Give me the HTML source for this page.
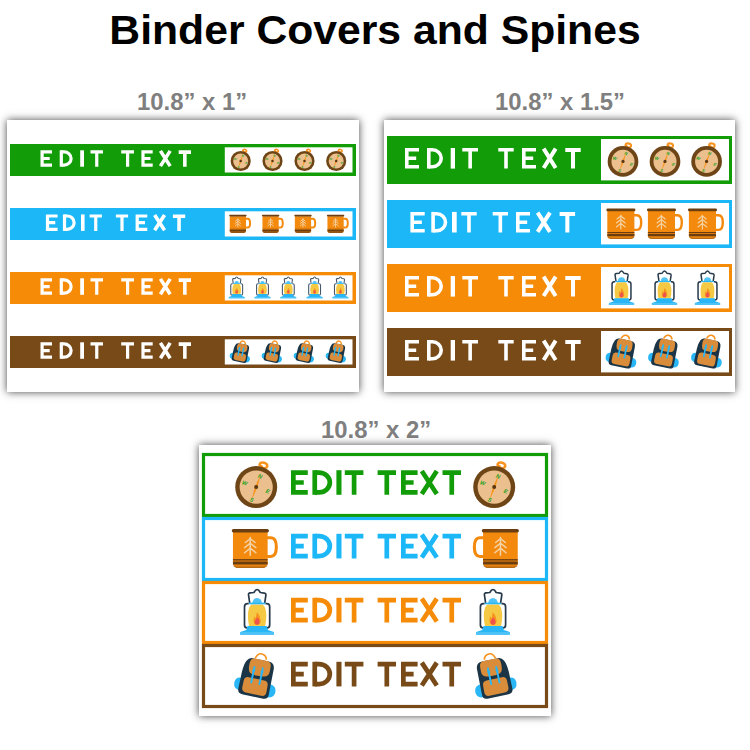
<!DOCTYPE html>
<html><head><meta charset="utf-8"><style>
html,body{margin:0;padding:0;background:#fff;width:750px;height:750px;overflow:hidden}
.pn{position:absolute;background:#fff;box-shadow:0 0 8px 0 rgba(0,0,0,0.72)}
.t{position:absolute;font-family:"Liberation Sans",sans-serif;font-weight:bold;white-space:nowrap;line-height:1}
svg{position:absolute;left:0;top:0}
</style></head><body>
<div class="t" style="left:0;width:750px;text-align:center;top:9.6px;font-size:40px;color:#000;transform:scaleX(1.067)">Binder Covers and Spines</div>
<div class="t" style="left:136.8px;top:90.6px;font-size:23.4px;color:#7f7f7f;transform:scaleX(1.02);transform-origin:0 0">10.8” x 1”</div>
<div class="t" style="left:494.6px;top:90.6px;font-size:23.4px;color:#7f7f7f;transform:scaleX(1.02);transform-origin:0 0">10.8” x 1.5”</div>
<div class="t" style="left:321px;top:419.2px;font-size:23.4px;color:#7f7f7f;transform:scaleX(1.02);transform-origin:0 0">10.8” x 2”</div>
<div class="pn" style="left:7px;top:120px;width:352px;height:272px"></div>
<div class="pn" style="left:384px;top:120px;width:351px;height:272px"></div>
<div class="pn" style="left:199px;top:445px;width:352px;height:271px"></div>
<svg width="750" height="750" viewBox="0 0 750 750">
<defs>
<g id="compass">
 <path d="M4.6 -20.2 L5.6 -22" stroke="#f7931e" stroke-width="3.3"/>
 <ellipse cx="7.2" cy="-21.8" rx="3.9" ry="2.7" fill="none" stroke="#f7931e" stroke-width="2.6" transform="rotate(15 7.2 -21.8)"/>
 <circle r="21" fill="#6e4516"/>
 <circle r="16.6" fill="#ecc08e"/>
 <g transform="rotate(20)">
  <path d="M0 -14 L1.3 0 L0 14 L-1.3 0Z" fill="#f7931e"/>
  <g font-size="5.7" font-weight="bold" font-style="italic" text-anchor="middle" fill="#22a01e" font-family="Liberation Sans">
  <text x="0" y="-9.5">N</text><text x="0" y="15.4">S</text><text x="12.2" y="2">E</text><text x="-12.2" y="2">W</text>
  </g>
 </g>
 <circle r="2.0" fill="#5b3812"/>
</g>
<g id="compassM">
 <path d="M4.6 -20.2 L5.6 -22" stroke="#f7931e" stroke-width="3.5"/>
 <ellipse cx="7.2" cy="-21.8" rx="3.9" ry="2.7" fill="none" stroke="#f7931e" stroke-width="2.8" transform="rotate(15 7.2 -21.8)"/>
 <circle r="21" fill="#6e4516"/>
 <circle r="15.8" fill="#ecc08e"/>
 <g transform="rotate(20)">
  <path d="M0 -14 L1.3 0 L0 14 L-1.3 0Z" fill="#f7931e"/>
  <g font-size="6.0" font-weight="bold" font-style="italic" text-anchor="middle" fill="#22a01e" font-family="Liberation Sans">
  <text x="0" y="-9.5">N</text><text x="0" y="15.4">S</text><text x="12.2" y="2">E</text><text x="-12.2" y="2">W</text>
  </g>
 </g>
 <circle r="2.2" fill="#5b3812"/>
</g>
<g id="compassS">
 <path d="M4.6 -20.2 L5.6 -22" stroke="#f7931e" stroke-width="4.1"/>
 <ellipse cx="8.4" cy="-21.4" rx="3.9" ry="2.7" fill="none" stroke="#f7931e" stroke-width="3.4" transform="rotate(15 8.4 -21.4)"/>
 <circle r="21" fill="#6e4516"/>
 <circle r="15.6" fill="#ecc08e"/>
 <g transform="rotate(20)">
  <path d="M0 -14 L1.8 0 L0 14 L-1.8 0Z" fill="#f7931e"/>
  <g font-size="6.4" font-weight="bold" font-style="italic" text-anchor="middle" fill="#22a01e" font-family="Liberation Sans">
  <text x="0" y="-9.5">N</text><text x="0" y="15.4">S</text><text x="12.2" y="2">E</text><text x="-12.2" y="2">W</text>
  </g>
 </g>
 <circle r="2.6" fill="#5b3812"/>
</g>
<g id="mug">
 <path d="M27.2 6.9 H30.6 Q34.8 6.9 34.8 14.2 Q34.8 21.5 30.6 21.5 H27.2" fill="none" stroke="#f48a0d" stroke-width="2.4"/>
 <path d="M0.9 2.5 H28 V26.4 A4 4 0 0 1 24 30.4 H4.9 A4 4 0 0 1 0.9 26.4Z" fill="#f48a0d"/>
 <path d="M0.9 27.6 H28 V26.4 A4 4 0 0 1 24 30.4 H4.9 A4 4 0 0 1 0.9 26.4Z" fill="#e3820f"/>
 <rect x="0.9" y="23.6" width="27.1" height="1.1" fill="#6b3e12"/>
 <rect x="0.9" y="25.5" width="27.1" height="2.3" fill="#6b3e12"/>
 <path d="M0.9 28.2 Q1.4 30.4 4.9 30.4 H24 Q27.5 30.4 28 28.2 Q27.2 29.6 24 29.6 H4.9 Q1.7 29.6 0.9 28.2Z" fill="#8a4f12" opacity="0.7"/>
 <rect x="0" y="0" width="29" height="2.8" rx="1.3" fill="#6b3e12"/>
 <g stroke="#f3d3a6" stroke-width="1.15" fill="none" stroke-linecap="round">
  <path d="M14.4 6.8 V20.6"/>
  <path d="M10.6 10.6 L14.4 7.6 L18.2 10.6"/>
  <path d="M10 14.6 L14.4 11.2 L18.8 14.6"/>
  <path d="M10 18.6 L14.4 15 L18.8 18.6"/>
 </g>
</g>
<g id="mugS">
 <path d="M27.2 6.9 H30.6 Q34.8 6.9 34.8 14.2 Q34.8 21.5 30.6 21.5 H27.2" fill="none" stroke="#f48a0d" stroke-width="3.3"/>
 <path d="M0.9 2.5 H28 V26.4 A4 4 0 0 1 24 30.4 H4.9 A4 4 0 0 1 0.9 26.4Z" fill="#f48a0d"/>
 <path d="M0.9 27.6 H28 V26.4 A4 4 0 0 1 24 30.4 H4.9 A4 4 0 0 1 0.9 26.4Z" fill="#9a5a14"/>
 <rect x="0.9" y="23.6" width="27.1" height="1.1" fill="#6b3e12"/>
 <rect x="0.9" y="25.5" width="27.1" height="2.3" fill="#6b3e12"/>
 <path d="M0.9 28.2 Q1.4 30.4 4.9 30.4 H24 Q27.5 30.4 28 28.2 Q27.2 29.6 24 29.6 H4.9 Q1.7 29.6 0.9 28.2Z" fill="#8a4f12" opacity="0.7"/>
 <rect x="0" y="0" width="29" height="2.8" rx="1.3" fill="#6b3e12"/>
 <g stroke="#f3d3a6" stroke-width="1.5" fill="none" stroke-linecap="round">
  <path d="M14.4 6.8 V20.6"/>
  <path d="M10.6 10.6 L14.4 7.6 L18.2 10.6"/>
  <path d="M10 14.6 L14.4 11.2 L18.8 14.6"/>
  <path d="M10 18.6 L14.4 15 L18.8 18.6"/>
 </g>
</g>
<g id="lantern">
 <path d="M-7.4 13.5 L-8.6 5.2 Q-8.8 3.6 -7 3.4 L-3.2 3 Q-1.6 0 0 0 Q1.6 0 3.2 3 L7.2 3.6 Q9 3.9 8.8 5.6 L7.6 13.5" fill="none" stroke="#26394a" stroke-width="1.7" stroke-linejoin="round"/>
 <path d="M-4.8 13.6 A4.8 5.2 0 0 1 4.8 13.6Z" fill="#4fc3f7"/>
 <path d="M-8.4 14.2 H-9.6 Q-12.6 14.2 -12.6 17.4 V35.6 Q-12.6 38.6 -9.6 38.6 M8.4 14.2 H9.6 Q12.6 14.2 12.6 17.4 V35.6 Q12.6 38.6 9.6 38.6" fill="none" stroke="#26394a" stroke-width="1.7"/>
 <path d="M-5.8 14.9 Q-9.2 18.4 -9.2 26 Q-9.2 32.6 -8 36.6 H8 Q9.2 32.6 9.2 26 Q9.2 18.4 5.8 14.9Z" fill="#f6c945"/>
 <rect x="-8.2" y="13.2" width="16.4" height="1.6" fill="#29b6f6"/>
 <path d="M0 22.8 Q3.6 26.8 3.6 31 Q3.6 35.4 0 35.4 Q-3.6 35.4 -3.6 31 Q-3.6 28.2 -2.2 26.8 Q-1.8 28.6 -1 28.8 Q-1.4 25.6 0 22.8Z" fill="#f7931e"/>
 <path d="M0.4 27.8 Q2.4 30.4 2.4 32.4 Q2.4 35.2 0 35.2 Q-2.4 35.2 -2.4 32.6 Q-2.4 31 -1.2 30 Q-0.6 28.8 0.4 27.8Z" fill="#ef5350"/>
 <path d="M-9.6 36.4 H9.6 L10.8 40.6 L16.8 42.6 V45.3 H-16.8 V42.6 L-10.8 40.6Z" fill="#29b6f6"/>
 <rect x="-16.8" y="42.6" width="33.6" height="2.7" fill="#4fc3f7"/>
</g>
<g id="lanternM">
 <path d="M-7.4 13.5 L-8.6 5.2 Q-8.8 3.6 -7 3.4 L-3.2 3 Q-1.6 0 0 0 Q1.6 0 3.2 3 L7.2 3.6 Q9 3.9 8.8 5.6 L7.6 13.5" fill="none" stroke="#26394a" stroke-width="2.0" stroke-linejoin="round"/>
 <path d="M-4.8 13.6 A4.8 5.2 0 0 1 4.8 13.6Z" fill="#4fc3f7"/>
 <path d="M-8.4 14.2 H-9.6 Q-12.6 14.2 -12.6 17.4 V35.6 Q-12.6 38.6 -9.6 38.6 M8.4 14.2 H9.6 Q12.6 14.2 12.6 17.4 V35.6 Q12.6 38.6 9.6 38.6" fill="none" stroke="#26394a" stroke-width="2.0"/>
 <path d="M-5.8 14.9 Q-9.2 18.4 -9.2 26 Q-9.2 32.6 -8 36.6 H8 Q9.2 32.6 9.2 26 Q9.2 18.4 5.8 14.9Z" fill="#f6c945"/>
 <rect x="-8.2" y="13.2" width="16.4" height="1.6" fill="#29b6f6"/>
 <path d="M0 22.8 Q3.6 26.8 3.6 31 Q3.6 35.4 0 35.4 Q-3.6 35.4 -3.6 31 Q-3.6 28.2 -2.2 26.8 Q-1.8 28.6 -1 28.8 Q-1.4 25.6 0 22.8Z" fill="#f7931e"/>
 <path d="M0.4 27.8 Q2.4 30.4 2.4 32.4 Q2.4 35.2 0 35.2 Q-2.4 35.2 -2.4 32.6 Q-2.4 31 -1.2 30 Q-0.6 28.8 0.4 27.8Z" fill="#ef5350"/>
 <path d="M-9.6 36.4 H9.6 L10.8 40.6 L16.8 42.6 V45.3 H-16.8 V42.6 L-10.8 40.6Z" fill="#29b6f6"/>
 <rect x="-16.8" y="42.6" width="33.6" height="2.7" fill="#4fc3f7"/>
</g>
<g id="lanternS">
 <path d="M-7.4 13.5 L-8.6 5.2 Q-8.8 3.6 -7 3.4 L-3.2 3 Q-1.6 0 0 0 Q1.6 0 3.2 3 L7.2 3.6 Q9 3.9 8.8 5.6 L7.6 13.5" fill="none" stroke="#46576a" stroke-width="2.3" stroke-linejoin="round"/>
 <path d="M-4.8 13.6 A4.8 5.2 0 0 1 4.8 13.6Z" fill="#4fc3f7"/>
 <path d="M-8.4 14.2 H-9.6 Q-12.6 14.2 -12.6 17.4 V35.6 Q-12.6 38.6 -9.6 38.6 M8.4 14.2 H9.6 Q12.6 14.2 12.6 17.4 V35.6 Q12.6 38.6 9.6 38.6" fill="none" stroke="#46576a" stroke-width="2.3"/>
 <path d="M-5.8 14.9 Q-9.2 18.4 -9.2 26 Q-9.2 32.6 -8 36.6 H8 Q9.2 32.6 9.2 26 Q9.2 18.4 5.8 14.9Z" fill="#f6c945"/>
 <rect x="-8.2" y="13.2" width="16.4" height="1.6" fill="#29b6f6"/>
 <path d="M0 22.8 Q3.6 26.8 3.6 31 Q3.6 35.4 0 35.4 Q-3.6 35.4 -3.6 31 Q-3.6 28.2 -2.2 26.8 Q-1.8 28.6 -1 28.8 Q-1.4 25.6 0 22.8Z" fill="#f7931e"/>
 <path d="M0.4 27.8 Q2.4 30.4 2.4 32.4 Q2.4 35.2 0 35.2 Q-2.4 35.2 -2.4 32.6 Q-2.4 31 -1.2 30 Q-0.6 28.8 0.4 27.8Z" fill="#ef5350"/>
 <path d="M-9.6 36.4 H9.6 L10.8 40.6 L16.8 42.6 V45.3 H-16.8 V42.6 L-10.8 40.6Z" fill="#29b6f6"/>
 <rect x="-16.8" y="42.6" width="33.6" height="2.7" fill="#4fc3f7"/>
</g>
<g id="backpack">
 <path d="M-13.6 2.6 Q-20.6 2.2 -20.6 8.8 Q-20.4 15.6 -12.6 15.4Z" fill="#29b6f6"/>
 <path d="M13.6 3 Q21.4 2.8 21.6 9.6 Q21.8 16.4 13.6 16.4Z" fill="#29b6f6"/>
 <path d="M-5.2 -19.4 Q-3.6 -25.2 0.6 -24.9 Q5 -24.6 6 -20.2" fill="none" stroke="#f7931e" stroke-width="1.7"/>
 <path d="M-7.6 -18.8 H8.6 Q15 -18.8 15.2 -12 L15.6 13.4 Q15.8 18.6 11 18.6 H-10.6 Q-15.6 18.6 -15.4 13.4 L-15.4 -3 Q-15.2 -11 -13.2 -15 Q-11.2 -18.8 -7.6 -18.8Z" fill="#1c3546"/>
 <path d="M-5 -19 H7 Q11.4 -19 11.6 -14 L11.8 -9.6 Q12 -3.6 6 -3 L1 -2.6 Q-6.6 -2.4 -8.2 -5 Q-9.6 -7.4 -9.6 -11.4 V-13.8 Q-9.6 -19 -5 -19Z" fill="#d98d3b"/>
 <path d="M-7.6 0.6 H8.2 Q12.4 0.6 12.6 5 L12.8 11.6 Q12.8 16.2 8.4 16.2 H-7.2 Q-11.8 16.2 -11.8 11.6 V5.2 Q-11.8 0.6 -7.6 0.6Z" fill="#d98d3b"/>
 <g stroke="#29b6f6" stroke-width="1.9" stroke-linecap="round">
  <path d="M-4.1 -10.6 V5.2"/><path d="M4.3 -11 V5.2"/>
 </g>
 <ellipse cx="-4.1" cy="-7" rx="1.4" ry="2" fill="#29b6f6"/><ellipse cx="4.3" cy="-7.2" rx="1.4" ry="2" fill="#29b6f6"/>
</g>
<g id="backpackM">
 <path d="M-13.6 2.6 Q-20.6 2.2 -20.6 8.8 Q-20.4 15.6 -12.6 15.4Z" fill="#29b6f6"/>
 <path d="M13.6 3 Q21.4 2.8 21.6 9.6 Q21.8 16.4 13.6 16.4Z" fill="#29b6f6"/>
 <path d="M-5.2 -19.4 Q-3.6 -25.2 0.6 -24.9 Q5 -24.6 6 -20.2" fill="none" stroke="#f7931e" stroke-width="2.1"/>
 <path d="M-7.6 -18.8 H8.6 Q15 -18.8 15.2 -12 L15.6 13.4 Q15.8 18.6 11 18.6 H-10.6 Q-15.6 18.6 -15.4 13.4 L-15.4 -3 Q-15.2 -11 -13.2 -15 Q-11.2 -18.8 -7.6 -18.8Z" fill="#1c3546"/>
 <path d="M-5 -19 H7 Q11.4 -19 11.6 -14 L11.8 -9.6 Q12 -3.6 6 -3 L1 -2.6 Q-6.6 -2.4 -8.2 -5 Q-9.6 -7.4 -9.6 -11.4 V-13.8 Q-9.6 -19 -5 -19Z" fill="#d98d3b"/>
 <path d="M-7.6 0.6 H8.2 Q12.4 0.6 12.6 5 L12.8 11.6 Q12.8 16.2 8.4 16.2 H-7.2 Q-11.8 16.2 -11.8 11.6 V5.2 Q-11.8 0.6 -7.6 0.6Z" fill="#d98d3b"/>
 <g stroke="#29b6f6" stroke-width="2.3" stroke-linecap="round">
  <path d="M-4.1 -10.6 V5.2"/><path d="M4.3 -11 V5.2"/>
 </g>
 <ellipse cx="-4.1" cy="-7" rx="1.4" ry="2" fill="#29b6f6"/><ellipse cx="4.3" cy="-7.2" rx="1.4" ry="2" fill="#29b6f6"/>
</g>
<g id="backpackS">
 <path d="M-13.6 2.6 Q-20.6 2.2 -20.6 8.8 Q-20.4 15.6 -12.6 15.4Z" fill="#29b6f6"/>
 <path d="M13.6 3 Q21.4 2.8 21.6 9.6 Q21.8 16.4 13.6 16.4Z" fill="#29b6f6"/>
 <path d="M-5.2 -19.4 Q-3.6 -25.2 0.6 -24.9 Q5 -24.6 6 -20.2" fill="none" stroke="#f7931e" stroke-width="2.8"/>
 <path d="M-7.6 -18.8 H8.6 Q15 -18.8 15.2 -12 L15.6 13.4 Q15.8 18.6 11 18.6 H-10.6 Q-15.6 18.6 -15.4 13.4 L-15.4 -3 Q-15.2 -11 -13.2 -15 Q-11.2 -18.8 -7.6 -18.8Z" fill="#1c3546"/>
 <path d="M-5 -19 H7 Q11.4 -19 11.6 -14 L11.8 -9.6 Q12 -3.6 6 -3 L1 -2.6 Q-6.6 -2.4 -8.2 -5 Q-9.6 -7.4 -9.6 -11.4 V-13.8 Q-9.6 -19 -5 -19Z" fill="#d98d3b"/>
 <path d="M-7.6 0.6 H8.2 Q12.4 0.6 12.6 5 L12.8 11.6 Q12.8 16.2 8.4 16.2 H-7.2 Q-11.8 16.2 -11.8 11.6 V5.2 Q-11.8 0.6 -7.6 0.6Z" fill="#d98d3b"/>
 <g stroke="#29b6f6" stroke-width="2.8" stroke-linecap="round">
  <path d="M-4.1 -10.6 V5.2"/><path d="M4.3 -11 V5.2"/>
 </g>
 <ellipse cx="-4.1" cy="-7" rx="1.4" ry="2" fill="#29b6f6"/><ellipse cx="4.3" cy="-7.2" rx="1.4" ry="2" fill="#29b6f6"/>
</g></defs>
<rect x="10" y="144" width="346" height="32" fill="#129c08"/><rect x="224.8" y="147.3" width="127.7" height="25.2" fill="#fff"/><rect x="10" y="208" width="346" height="32" fill="#1bb7f7"/><rect x="224.8" y="211.3" width="127.7" height="25.2" fill="#fff"/><rect x="10" y="272" width="346" height="32" fill="#f58b06"/><rect x="224.8" y="275.3" width="127.7" height="25.2" fill="#fff"/><rect x="10" y="336" width="346" height="32" fill="#774a18"/><rect x="224.8" y="339.3" width="127.7" height="25.2" fill="#fff"/><g fill="#ffffff"><path d="M40.5 150.3H52V153.5H43.7V156.9H49.7V160.1H43.7V163.5H52V166.7H40.5Z"/><rect x="59.7" y="150.3" width="3.2" height="16.4"/><path fill="none" stroke="#ffffff" stroke-width="3.2" d="M61.3 151.9H64.12A6.98 6.6 0 0 1 64.12 165.1H61.3"/><rect x="80.2" y="150.3" width="3.8" height="16.4"/><path d="M90.5 150.3H103V153.5H98.35V166.7H95.15V153.5H90.5Z"/><path d="M121.2 150.3H134V153.5H129.2V166.7H126V153.5H121.2Z"/><path d="M141.4 150.3H152.7V153.5H144.6V156.9H150.44V160.1H144.6V163.5H152.7V166.7H141.4Z"/><path fill="none" stroke="#ffffff" stroke-width="3.58" d="M160.44 150.88L170.16 166.12M170.16 150.88L160.44 166.12"/><path d="M178.7 150.3H191V153.88H186.64V166.7H183.06V153.88H178.7Z"/></g><g fill="#ffffff"><path d="M45.9 214.4H57.6V217.6H49.1V221.05H55.26V224.25H49.1V227.7H57.6V230.9H45.9Z"/><rect x="62.9" y="214.4" width="3.2" height="16.5"/><path fill="none" stroke="#ffffff" stroke-width="3.2" d="M64.5 216H67.25A6.85 6.65 0 0 1 67.25 229.3H64.5"/><rect x="81" y="214.4" width="3.6" height="16.5"/><path d="M89.6 214.4H101.9V217.6H97.35V230.9H94.15V217.6H89.6Z"/><path d="M115.9 214.4H128.1V217.6H123.6V230.9H120.4V217.6H115.9Z"/><path d="M135.6 214.4H147.3V217.6H138.8V221.05H144.96V224.25H138.8V227.7H147.3V230.9H135.6Z"/><path fill="none" stroke="#ffffff" stroke-width="3.58" d="M154.64 214.98L164.56 230.32M164.56 214.98L154.64 230.32"/><path d="M172.9 214.4H185.2V217.98H180.84V230.9H177.26V217.98H172.9Z"/></g><g fill="#ffffff"><path d="M40.5 278.3H52V281.5H43.7V284.95H49.7V288.15H43.7V291.6H52V294.8H40.5Z"/><rect x="59.7" y="278.3" width="3.2" height="16.5"/><path fill="none" stroke="#ffffff" stroke-width="3.2" d="M61.3 279.9H64.12A6.98 6.65 0 0 1 64.12 293.2H61.3"/><rect x="80.2" y="278.3" width="3.8" height="16.5"/><path d="M90.5 278.3H103V281.5H98.35V294.8H95.15V281.5H90.5Z"/><path d="M121.2 278.3H134V281.5H129.2V294.8H126V281.5H121.2Z"/><path d="M141.4 278.3H152.7V281.5H144.6V284.95H150.44V288.15H144.6V291.6H152.7V294.8H141.4Z"/><path fill="none" stroke="#ffffff" stroke-width="3.58" d="M160.44 278.88L170.16 294.22M170.16 278.88L160.44 294.22"/><path d="M178.7 278.3H191V281.88H186.64V294.8H183.06V281.88H178.7Z"/></g><g fill="#ffffff"><path d="M40.5 342.3H52V345.5H43.7V348.95H49.7V352.15H43.7V355.6H52V358.8H40.5Z"/><rect x="59.7" y="342.3" width="3.2" height="16.5"/><path fill="none" stroke="#ffffff" stroke-width="3.2" d="M61.3 343.9H64.12A6.98 6.65 0 0 1 64.12 357.2H61.3"/><rect x="80.2" y="342.3" width="3.8" height="16.5"/><path d="M90.5 342.3H103V345.5H98.35V358.8H95.15V345.5H90.5Z"/><path d="M121.2 342.3H134V345.5H129.2V358.8H126V345.5H121.2Z"/><path d="M141.4 342.3H152.7V345.5H144.6V348.95H150.44V352.15H144.6V355.6H152.7V358.8H141.4Z"/><path fill="none" stroke="#ffffff" stroke-width="3.58" d="M160.44 342.88L170.16 358.22M170.16 342.88L160.44 358.22"/><path d="M178.7 342.3H191V345.88H186.64V358.8H183.06V345.88H178.7Z"/></g><use href="#compassS" transform="translate(240.7 161) scale(0.48)"/><use href="#compassS" transform="translate(272.5 161) scale(0.48)"/><use href="#compassS" transform="translate(304.5 161) scale(0.48)"/><use href="#compassS" transform="translate(336.2 161) scale(0.48)"/><use href="#mugS" transform="translate(229.2 214.7) scale(0.6)"/><use href="#mugS" transform="translate(261.9 214.7) scale(0.6)"/><use href="#mugS" transform="translate(294.3 214.7) scale(0.6)"/><use href="#mugS" transform="translate(326.9 214.7) scale(0.6)"/><use href="#lanternS" transform="translate(236.7 277) scale(0.47)"/><use href="#lanternS" transform="translate(262.5 277) scale(0.47)"/><use href="#lanternS" transform="translate(288.3 277) scale(0.47)"/><use href="#lanternS" transform="translate(314.6 277) scale(0.47)"/><use href="#lanternS" transform="translate(340.4 277) scale(0.47)"/><use href="#backpackS" transform="translate(240.5 353) scale(0.49) rotate(12)"/><use href="#backpackS" transform="translate(272.5 353) scale(0.49) rotate(12)"/><use href="#backpackS" transform="translate(304.5 353) scale(0.49) rotate(12)"/><use href="#backpackS" transform="translate(336.5 353) scale(0.49) rotate(12)"/>
<rect x="387" y="136" width="345" height="48" fill="#129c08"/><rect x="601" y="139" width="128" height="41.4" fill="#fff"/><rect x="387" y="200" width="345" height="48" fill="#1bb7f7"/><rect x="601" y="203" width="128" height="41.4" fill="#fff"/><rect x="387" y="264" width="345" height="48" fill="#f58b06"/><rect x="601" y="267" width="128" height="41.4" fill="#fff"/><rect x="387" y="328" width="345" height="48" fill="#774a18"/><rect x="601" y="331" width="128" height="41.4" fill="#fff"/><g fill="#ffffff"><path d="M405 148H419V151.6H408.6V156.5H416.2V160.1H408.6V165H419V168.6H405Z"/><rect x="427" y="148" width="3.6" height="20.6"/><path fill="none" stroke="#ffffff" stroke-width="3.6" d="M428.8 149.8H432.44A8.76 8.5 0 0 1 432.44 166.8H428.8"/><rect x="450.7" y="148" width="4.3" height="20.6"/><path d="M462.3 148H478V151.6H471.95V168.6H468.35V151.6H462.3Z"/><path d="M498.3 148H513.7V151.6H507.8V168.6H504.2V151.6H498.3Z"/><path d="M522 148H536V151.6H525.6V156.5H533.2V160.1H525.6V165H536V168.6H522Z"/><path fill="none" stroke="#ffffff" stroke-width="4.03" d="M543.62 148.65L555.68 167.95M555.68 148.65L543.62 167.95"/><path d="M565.3 148H580.7V152.03H575.02V168.6H570.98V152.03H565.3Z"/></g><g fill="#ffffff"><path d="M410.4 211.9H424.7V215.5H414V220.4H421.84V224H414V228.9H424.7V232.5H410.4Z"/><rect x="431.3" y="211.9" width="3.6" height="20.6"/><path fill="none" stroke="#ffffff" stroke-width="3.6" d="M433.1 213.7H436.74A8.76 8.5 0 0 1 436.74 230.7H433.1"/><rect x="452" y="211.9" width="4.7" height="20.6"/><path d="M461.3 211.9H476.7V215.5H470.8V232.5H467.2V215.5H461.3Z"/><path d="M492.7 211.9H508V215.5H502.15V232.5H498.55V215.5H492.7Z"/><path d="M516 211.9H530V215.5H519.6V220.4H527.2V224H519.6V228.9H530V232.5H516Z"/><path fill="none" stroke="#ffffff" stroke-width="4.03" d="M537.62 212.55L549.98 231.85M549.98 212.55L537.62 231.85"/><path d="M559.6 211.9H575.1V215.93H569.37V232.5H565.33V215.93H559.6Z"/></g><g fill="#ffffff"><path d="M405 276H419V279.6H408.6V284.5H416.2V288.1H408.6V293H419V296.6H405Z"/><rect x="427" y="276" width="3.6" height="20.6"/><path fill="none" stroke="#ffffff" stroke-width="3.6" d="M428.8 277.8H432.44A8.76 8.5 0 0 1 432.44 294.8H428.8"/><rect x="450.7" y="276" width="4.3" height="20.6"/><path d="M462.3 276H478V279.6H471.95V296.6H468.35V279.6H462.3Z"/><path d="M498.3 276H513.7V279.6H507.8V296.6H504.2V279.6H498.3Z"/><path d="M522 276H536V279.6H525.6V284.5H533.2V288.1H525.6V293H536V296.6H522Z"/><path fill="none" stroke="#ffffff" stroke-width="4.03" d="M543.62 276.65L555.68 295.95M555.68 276.65L543.62 295.95"/><path d="M565.3 276H580.7V280.03H575.02V296.6H570.98V280.03H565.3Z"/></g><g fill="#ffffff"><path d="M405 340H419V343.6H408.6V348.5H416.2V352.1H408.6V357H419V360.6H405Z"/><rect x="427" y="340" width="3.6" height="20.6"/><path fill="none" stroke="#ffffff" stroke-width="3.6" d="M428.8 341.8H432.44A8.76 8.5 0 0 1 432.44 358.8H428.8"/><rect x="450.7" y="340" width="4.3" height="20.6"/><path d="M462.3 340H478V343.6H471.95V360.6H468.35V343.6H462.3Z"/><path d="M498.3 340H513.7V343.6H507.8V360.6H504.2V343.6H498.3Z"/><path d="M522 340H536V343.6H525.6V348.5H533.2V352.1H525.6V357H536V360.6H522Z"/><path fill="none" stroke="#ffffff" stroke-width="4.03" d="M543.62 340.65L555.68 359.95M555.68 340.65L543.62 359.95"/><path d="M565.3 340H580.7V344.03H575.02V360.6H570.98V344.03H565.3Z"/></g><use href="#compassM" transform="translate(623 161.4) scale(0.73)"/><use href="#compassM" transform="translate(665 161.4) scale(0.73)"/><use href="#compassM" transform="translate(706.6 161.4) scale(0.73)"/><use href="#mug" transform="translate(606.4 208.4) scale(1)"/><use href="#mug" transform="translate(647 208.4) scale(1)"/><use href="#mug" transform="translate(688 208.4) scale(1)"/><use href="#lanternM" transform="translate(621.5 271) scale(0.75)"/><use href="#lanternM" transform="translate(664.5 271) scale(0.75)"/><use href="#lanternM" transform="translate(707.5 271) scale(0.75)"/><use href="#backpackM" transform="translate(622 353.3) scale(0.74) rotate(12)"/><use href="#backpackM" transform="translate(664.5 353.3) scale(0.74) rotate(12)"/><use href="#backpackM" transform="translate(707.5 353.3) scale(0.74) rotate(12)"/>
<rect x="203.5" y="454.5" width="343" height="61" fill="none" stroke="#129c08" stroke-width="3.2"/><rect x="203.5" y="518.5" width="343" height="61" fill="none" stroke="#1bb7f7" stroke-width="3.2"/><rect x="203.5" y="582.5" width="343" height="60" fill="none" stroke="#f58b06" stroke-width="3.2"/><rect x="203.5" y="645.5" width="343" height="61" fill="none" stroke="#774a18" stroke-width="3.2"/><g fill="#129c08"><path d="M291 470.2H307.8V474.9H295.7V480.15H303.77V484.85H295.7V490.1H307.8V494.8H291Z"/><rect x="312.4" y="470.2" width="4.7" height="24.6"/><path fill="none" stroke="#129c08" stroke-width="4.7" d="M314.75 472.55H319.13A10.72 9.95 0 0 1 319.13 492.45H314.75"/><rect x="336.4" y="470.2" width="5.1" height="24.6"/><path d="M344.8 470.2H363.4V474.9H356.45V494.8H351.75V474.9H344.8Z"/><path d="M377.6 470.2H396V474.9H389.15V494.8H384.45V474.9H377.6Z"/><path d="M401 470.2H417.6V474.9H405.7V480.15H413.62V484.85H405.7V490.1H417.6V494.8H401Z"/><path fill="none" stroke="#129c08" stroke-width="4.7" d="M421.81 471.05L436.78 493.95M436.78 471.05L421.81 493.95"/><path d="M442.5 470.2H461V474.9H454.1V494.8H449.4V474.9H442.5Z"/></g><g fill="#1bb7f7"><path d="M291 533.8H307.8V538.5H295.7V543.75H303.77V548.45H295.7V553.7H307.8V558.4H291Z"/><rect x="312.4" y="533.8" width="4.7" height="24.6"/><path fill="none" stroke="#1bb7f7" stroke-width="4.7" d="M314.75 536.15H319.13A10.72 9.95 0 0 1 319.13 556.05H314.75"/><rect x="336.4" y="533.8" width="5.1" height="24.6"/><path d="M344.8 533.8H363.4V538.5H356.45V558.4H351.75V538.5H344.8Z"/><path d="M377.6 533.8H396V538.5H389.15V558.4H384.45V538.5H377.6Z"/><path d="M401 533.8H417.6V538.5H405.7V543.75H413.62V548.45H405.7V553.7H417.6V558.4H401Z"/><path fill="none" stroke="#1bb7f7" stroke-width="4.7" d="M421.81 534.65L436.78 557.55M436.78 534.65L421.81 557.55"/><path d="M442.5 533.8H461V538.5H454.1V558.4H449.4V538.5H442.5Z"/></g><g fill="#f58b06"><path d="M291 597.8H307.8V602.5H295.7V607.75H303.77V612.45H295.7V617.7H307.8V622.4H291Z"/><rect x="312.4" y="597.8" width="4.7" height="24.6"/><path fill="none" stroke="#f58b06" stroke-width="4.7" d="M314.75 600.15H319.13A10.72 9.95 0 0 1 319.13 620.05H314.75"/><rect x="336.4" y="597.8" width="5.1" height="24.6"/><path d="M344.8 597.8H363.4V602.5H356.45V622.4H351.75V602.5H344.8Z"/><path d="M377.6 597.8H396V602.5H389.15V622.4H384.45V602.5H377.6Z"/><path d="M401 597.8H417.6V602.5H405.7V607.75H413.62V612.45H405.7V617.7H417.6V622.4H401Z"/><path fill="none" stroke="#f58b06" stroke-width="4.7" d="M421.81 598.65L436.78 621.55M436.78 598.65L421.81 621.55"/><path d="M442.5 597.8H461V602.5H454.1V622.4H449.4V602.5H442.5Z"/></g><g fill="#774a18"><path d="M291 661.8H307.8V666.5H295.7V671.75H303.77V676.45H295.7V681.7H307.8V686.4H291Z"/><rect x="312.4" y="661.8" width="4.7" height="24.6"/><path fill="none" stroke="#774a18" stroke-width="4.7" d="M314.75 664.15H319.13A10.72 9.95 0 0 1 319.13 684.05H314.75"/><rect x="336.4" y="661.8" width="5.1" height="24.6"/><path d="M344.8 661.8H363.4V666.5H356.45V686.4H351.75V666.5H344.8Z"/><path d="M377.6 661.8H396V666.5H389.15V686.4H384.45V666.5H377.6Z"/><path d="M401 661.8H417.6V666.5H405.7V671.75H413.62V676.45H405.7V681.7H417.6V686.4H401Z"/><path fill="none" stroke="#774a18" stroke-width="4.7" d="M421.81 662.65L436.78 685.55M436.78 662.65L421.81 685.55"/><path d="M442.5 661.8H461V666.5H454.1V686.4H449.4V666.5H442.5Z"/></g><use href="#compass" transform="translate(256.2 487.1) scale(1)"/><use href="#compass" transform="translate(494.2 487.1) scale(1)"/><use href="#mug" transform="translate(231.8 528.9) scale(1.28)"/><use href="#mug" transform="translate(518.9 528.9) scale(-1.28 1.28)"/><use href="#lantern" transform="translate(257.1 589.5) scale(1)"/><use href="#lantern" transform="translate(493 589.5) scale(1)"/><use href="#backpack" transform="translate(256.3 678.2) scale(1) rotate(12)"/><use href="#backpack" transform="translate(494.4 678.2) scale(-1 1) rotate(12)"/>
</svg>
</body></html>
